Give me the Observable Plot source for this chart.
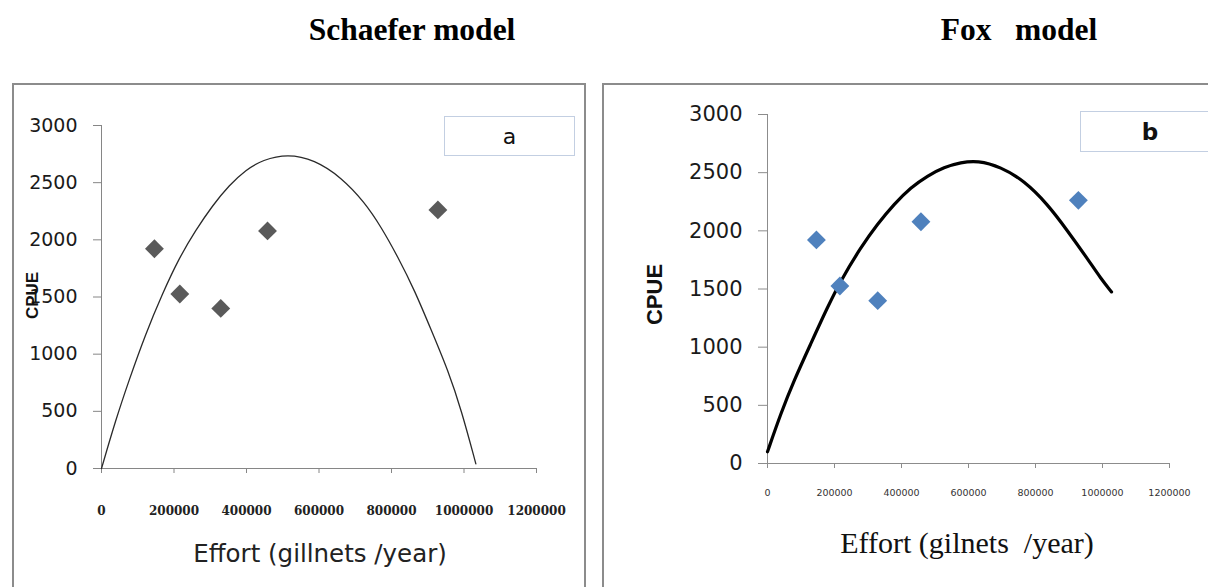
<!DOCTYPE html>
<html><head><meta charset="utf-8">
<script src="https://cdn.jsdelivr.net/npm/d3@7"></script>
<script src="https://cdn.jsdelivr.net/npm/@observablehq/plot@0.6"></script>
<style>
html,body{margin:0;padding:0;background:#fff;}
#page{position:relative;width:1208px;height:587px;overflow:hidden;background:#fff;}
.title{position:absolute;font-family:"Liberation Serif","Times New Roman",serif;font-weight:bold;font-size:31.5px;line-height:31px;white-space:pre;text-align:center;width:400px;color:#000;}
.panel{position:absolute;border:2px solid #8c8c8c;box-sizing:border-box;}
.chart{position:absolute;}
.legend{position:absolute;border:1.5px solid #c3cfe2;box-sizing:border-box;background:#fff;font-family:"DejaVu Sans",sans-serif;display:flex;align-items:center;justify-content:center;color:#111;}
</style>
</head><body>
<div id="page">
  <div class="title" style="left:212px;top:14px;">Schaefer model</div>
  <div class="title" style="left:819px;top:14px;">Fox   model</div>
  <div class="panel" style="left:12px;top:83px;width:574px;height:530px;"></div>
  <div class="panel" style="left:602px;top:83px;width:640px;height:530px;"></div>
  <div class="chart" id="left" style="left:13px;top:84px;"></div>
  <div class="chart" id="right" style="left:603px;top:84px;"></div>
  <div class="legend" style="left:444px;top:116px;width:131px;height:40px;font-size:22px;">a</div>
  <div class="legend" style="left:1080px;top:111px;width:140px;height:41px;font-size:23px;font-weight:bold;">b</div>
</div>
<script>
// ---- data ----
const effort = [146000, 216000, 329000, 458000, 928000];
const cpue = [1922, 1526, 1400, 2078, 2262];

const schaeferEffort = [0, 38700, 75600, 121700, 167900, 213900, 260000, 306200, 352300, 398300, 444500, 513600, 587300, 661100, 725600, 771800, 818000, 864000, 910100, 956200, 993100, 1032700];
const schaeferCpue   = [0, 420, 770, 1178, 1528, 1840, 2085, 2300, 2478, 2612, 2700, 2752, 2700, 2548, 2330, 2111, 1848, 1557, 1207, 857, 507, 41];

const foxEffort = [0, 39700, 79400, 129300, 179100, 218800, 278500, 328400, 378000, 427800, 477600, 527200, 577000, 627000, 696400, 766000, 835800, 895500, 955200, 995000, 1027000];
const foxCpue   = [101, 430, 716, 1030, 1344, 1573, 1858, 2059, 2230, 2373, 2473, 2548, 2588, 2605, 2550, 2430, 2230, 2001, 1760, 1590, 1475];

const xTicks = [0, 200000, 400000, 600000, 800000, 1000000, 1200000];
const yTicks = [0, 500, 1000, 1500, 2000, 2500, 3000];

const yLabel = "CPUE";
const xTitleLeft = "Effort (gillnets /year)";
const xTitleRight = "Effort (gilnets  /year)";

// ---- tables ----
const points = effort.map((e, i) => ({e, c: cpue[i]}));
const schaefer = schaeferEffort.map((e, i) => ({e, c: schaeferCpue[i]}));
const fox = foxEffort.map((e, i) => ({e, c: foxCpue[i]}));
const fmt = d3.format("d");

const left = Plot.plot({
  width: 572, height: 503,
  marginLeft: 88, marginRight: 49, marginTop: 41, marginBottom: 119,
  style: {background: "transparent", overflow: "visible"},
  x: {domain: [0, 1200000], axis: null},
  y: {domain: [0, 3000], axis: null},
  marks: [
    Plot.ruleX([0], {y1: 0, y2: 3000, stroke: "#868686"}),
    Plot.ruleY([0], {x1: 0, x2: 1200000, insetLeft: -8, stroke: "#868686"}),
    Plot.axisY(yTicks, {tickSize: 8, tickPadding: 16, fontSize: 19, fontFamily: "DejaVu Sans", stroke: "#868686", fill: "#1a1a1a", tickFormat: fmt, label: null}),
    Plot.axisX(xTicks, {tickSize: 5, tickPadding: 33, fontSize: 12, fontFamily: "DejaVu Serif", fontWeight: "bold", stroke: "#868686", fill: "#222", tickFormat: fmt, label: null}),
    Plot.line(schaefer, {x: "e", y: "c", curve: "basis", stroke: "#2a2a2a", strokeWidth: 1.3}),
    Plot.dot(points, {x: "e", y: "c", symbol: "diamond2", r: 8.5, fill: "#5a5a5a", stroke: "none"}),
    Plot.text([xTitleLeft], {text: d => d, frameAnchor: "bottom", textAnchor: "middle", lineAnchor: "bottom", dx: 1, dy: 93, fontSize: 24.5, fontFamily: "DejaVu Sans", fill: "#222"}),
    Plot.text([yLabel], {text: d => d, frameAnchor: "left", textAnchor: "middle", rotate: -90, dx: -68.5, dy: -1.5, fontSize: 17, fontWeight: "bold", fontFamily: "Liberation Sans", fill: "#111"})
  ]
});
document.getElementById("left").appendChild(left);

const right = Plot.plot({
  width: 605, height: 503,
  marginLeft: 164, marginRight: 39, marginTop: 30, marginBottom: 124,
  style: {background: "transparent", overflow: "visible"},
  x: {domain: [0, 1200000], axis: null},
  y: {domain: [0, 3000], axis: null},
  marks: [
    Plot.ruleX([0], {y1: 0, y2: 3000, stroke: "#8c8c8c"}),
    Plot.ruleY([0], {x1: 0, x2: 1200000, insetLeft: -9, stroke: "#8c8c8c"}),
    Plot.axisY(yTicks, {tickSize: 9, tickPadding: 16, fontSize: 21, fontFamily: "DejaVu Sans", stroke: "#8c8c8c", fill: "#1a1a1a", tickFormat: fmt, label: null}),
    Plot.axisX(xTicks, {tickSize: 5, tickPadding: 21, fontSize: 9.5, fontFamily: "DejaVu Sans", stroke: "#8c8c8c", fill: "#333", tickFormat: fmt, label: null}),
    Plot.line(fox, {x: "e", y: "c", curve: "basis", stroke: "#000", strokeWidth: 3.2}),
    Plot.dot(points, {x: "e", y: "c", symbol: "diamond2", r: 8.5, fill: "#4f81bd", stroke: "none"}),
    Plot.text([xTitleRight], {text: d => d, frameAnchor: "bottom", textAnchor: "middle", lineAnchor: "bottom", dx: -1.5, dy: 89, fontSize: 30, fontFamily: "Liberation Serif", fill: "#111"}),
    Plot.text([yLabel], {text: d => d, frameAnchor: "left", textAnchor: "middle", rotate: -90, dx: -113, dy: 5.5, fontSize: 22, fontWeight: "bold", fontFamily: "Liberation Sans", fill: "#111"})
  ]
});
document.getElementById("right").appendChild(right);
</script>
</body></html>
